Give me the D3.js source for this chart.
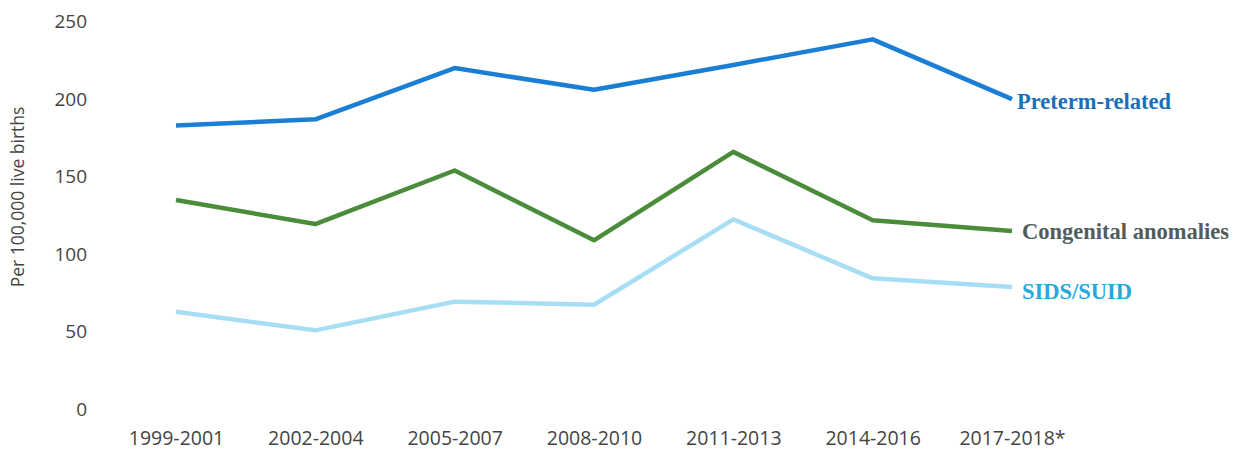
<!DOCTYPE html>
<html>
<head>
<meta charset="utf-8">
<script src="https://cdn.jsdelivr.net/npm/d3@7"></script>
<style>
  html, body { margin: 0; padding: 0; background: #ffffff; }
  svg { display: block; }
</style>
</head>
<body>
<svg id="chart" width="1250" height="451"></svg>
<script>
const categories = ["1999-2001", "2002-2004", "2005-2007", "2008-2010", "2011-2013", "2014-2016", "2017-2018*"];
const pretermValues = [183, 187, 220, 206, 222, 238.5, 200];
const congenitalValues = [135, 119.5, 154, 109, 166, 122, 115];
const sidsValues = [63, 51, 69.5, 67.5, 122.5, 84.5, 79];
const yTicks = [0, 50, 100, 150, 200, 250];
const seriesNames = ["Preterm-related", "Congenital anomalies", "SIDS/SUID"];

const series = [
  { name: seriesNames[0], values: pretermValues, line: "#1a7fd4", text: "#1b6fb8", dx: 5, dy: 2 },
  { name: seriesNames[1], values: congenitalValues, line: "#4b8c3a", text: "#4f5d5d", dx: 10, dy: 0 },
  { name: seriesNames[2], values: sidsValues, line: "#a8def5", text: "#27a9dc", dx: 10, dy: 4 }
];

const svg = d3.select("#chart");

const x = d3.scalePoint().domain(categories).range([176, 1012]).padding(0);
const y = d3.scaleLinear().domain([0, 250]).range([409.5, 21.5]);

// Y axis (labels only)
const yAxis = svg.append("g")
  .attr("transform", "translate(96,0)")
  .call(d3.axisLeft(y).tickValues(yTicks).tickSize(0).tickPadding(9));
yAxis.select(".domain").remove();
yAxis.selectAll("text")
  .attr("font-family", "'Open Sans', sans-serif")
  .attr("font-size", 19)
  .attr("fill", "#444");

// X axis (labels only)
const xAxis = svg.append("g")
  .attr("transform", "translate(0,431)")
  .call(d3.axisBottom(x).tickSize(0).tickPadding(0));
xAxis.select(".domain").remove();
xAxis.selectAll("text")
  .attr("font-family", "'Open Sans', sans-serif")
  .attr("font-size", 19.5)
  .attr("fill", "#444");

// Y axis title
svg.append("text")
  .attr("transform", "translate(24,197) rotate(-90)")
  .attr("text-anchor", "middle")
  .attr("font-family", "'Open Sans', sans-serif")
  .attr("font-size", 17.5)
  .attr("fill", "#444")
  .text("Per 100,000 live births");

const line = d3.line()
  .x((d, i) => x(categories[i]))
  .y(d => y(d));

series.slice().reverse().forEach(s => {
  svg.append("path")
    .datum(s.values)
    .attr("fill", "none")
    .attr("stroke", s.line)
    .attr("stroke-width", 4.5)
    .attr("stroke-linejoin", "round")
    .attr("d", line);
});

series.forEach(s => {
  const last = s.values[s.values.length - 1];
  svg.append("text")
    .attr("x", x(categories[categories.length - 1]) + s.dx)
    .attr("y", y(last) + s.dy)
    .attr("dy", "0.35em")
    .attr("font-family", "'Liberation Serif', 'Times New Roman', serif")
    .attr("font-weight", "bold")
    .attr("font-size", 22.5)
    .attr("fill", s.text)
    .text(s.name);
});
</script>
</body>
</html>
